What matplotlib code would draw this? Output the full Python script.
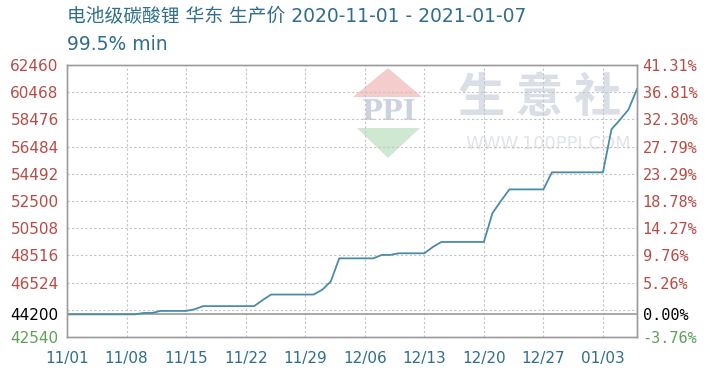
import matplotlib
matplotlib.use("Agg")
import matplotlib.pyplot as plt
from matplotlib.patches import Polygon
import pandas as pd

plt.rcParams['font.family'] = ['DejaVu Sans', 'Noto Sans CJK SC']

# --- datos ---
dates = pd.date_range("2020-11-01", "2021-01-07", freq="D")
prices = ([44200] * 9 + [44300] * 2 + [44450] * 4 + [44570] + [44800] * 7
          + [45250] + [45650] * 6 + [46000, 46600] + [48300] * 5
          + [48550] * 2 + [48670] * 4 + [49130] + [49500] * 6
          + [51600, 52500] + [53350] * 5 + [54600] * 7
          + [57750, 58450, 59200, 60700])

base_price = 44200
y_ticks = [62460, 60468, 58476, 56484, 54492, 52500, 50508, 48516, 46524, 44200, 42540]
y_grid = [44532, 46524, 48516, 50508, 52500, 54492, 56484, 58476, 60468]
pct_labels = ["41.31%", "36.81%", "32.30%", "27.79%", "23.29%", "18.78%",
              "14.27%", "9.76%", "5.26%", "0.00%", "-3.76%"]
x_ticks = pd.date_range("2020-11-01", "2021-01-03", freq="7D")
x_labels = ["11/01", "11/08", "11/15", "11/22", "11/29", "12/06",
            "12/13", "12/20", "12/27", "01/03"]

title = "电池级碳酸锂 华东 生产价 2020-11-01 - 2021-01-07"
subtitle = "99.5% min"

# --- colores ---
red = '#b94a45'
green = '#5fa05a'
teal = '#2f6e8c'
line_color = '#4a8ca8'
frame_color = '#9c9c9c'

W, H = 706, 375
fig = plt.figure(figsize=(W / 100, H / 100), dpi=100)
ax = fig.add_axes([67 / W, 1 - 337 / H, 570 / W, 272 / H])


def px(x, y):
    return (x / W, 1 - y / H)


# --- marca de agua ---
tf = fig.transFigure
ax.add_patch(Polygon([px(388, 68), px(353, 97), px(422, 97)], closed=True,
                     facecolor='#f4cccc', edgecolor='none', transform=tf, zorder=0))
ax.add_patch(Polygon([px(357, 128), px(420, 128), px(388, 158)], closed=True,
                     facecolor='#cfe8d2', edgecolor='none', transform=tf, zorder=0))
ax.text(*px(389, 113), "PPI", transform=tf, ha='center', va='center',
        fontsize=20, fontweight='bold', color='#cdd3de', family='DejaVu Serif', zorder=0)
ax.text(*px(540, 98), "生 意 社", transform=tf, ha='center', va='center',
        fontsize=34, fontweight='bold', color='#d9dee7',
        family='Noto Sans CJK SC', zorder=0)
ax.text(*px(548, 144), "WWW.100PPI.COM", transform=tf, ha='center', va='center',
        fontsize=13, color='#e0e4eb', family='DejaVu Sans', zorder=0)

# --- rejilla ---
for g in y_grid:
    ax.axhline(g, color='#c4c4c4', linewidth=0.8, linestyle=(0, (2, 2)), zorder=1)
for xt in x_ticks[1:]:
    ax.axvline(xt, color='#c4c4c4', linewidth=0.8, linestyle=(0, (2, 2)), zorder=1)
ax.axhline(base_price, color='#999999', linewidth=1.2, zorder=2)

# --- serie ---
ax.plot(dates, prices, color=line_color, linewidth=1.3, zorder=3)

ax.set_xlim(dates[0], dates[-1])
ax.set_ylim(42540, 62460)
ax.patch.set_alpha(0)

ax.set_xticks(x_ticks)
ax.set_xticklabels(x_labels, color=teal, fontsize=11)
ax.set_yticks(y_ticks)
ax.set_yticklabels([str(v) for v in y_ticks], fontsize=11)
for lbl, v in zip(ax.get_yticklabels(), y_ticks):
    lbl.set_color('black' if v == base_price else (green if v < base_price else red))
ax.tick_params(axis='y', length=0, pad=6)
ax.tick_params(axis='x', length=0, pad=10)

ax2 = ax.twinx()
ax2.set_ylim(ax.get_ylim())
ax2.set_yticks(y_ticks)
ax2.set_yticklabels(pct_labels, fontsize=11, family='DejaVu Sans Mono')
for lbl, v in zip(ax2.get_yticklabels(), y_ticks):
    lbl.set_color('black' if v == base_price else (green if v < base_price else red))
ax2.tick_params(axis='y', length=0, pad=4)

for a in (ax, ax2):
    for s in a.spines.values():
        s.set_color(frame_color)
        s.set_linewidth(1)

fig.text(67 / W, 1 - 17 / H, title, fontsize=13.5, color=teal, va='center', ha='left')
fig.text(67 / W, 1 - 45 / H, subtitle, fontsize=13.5, color=teal, va='center', ha='left')

fig.savefig("out.png", dpi=100, facecolor='white')
